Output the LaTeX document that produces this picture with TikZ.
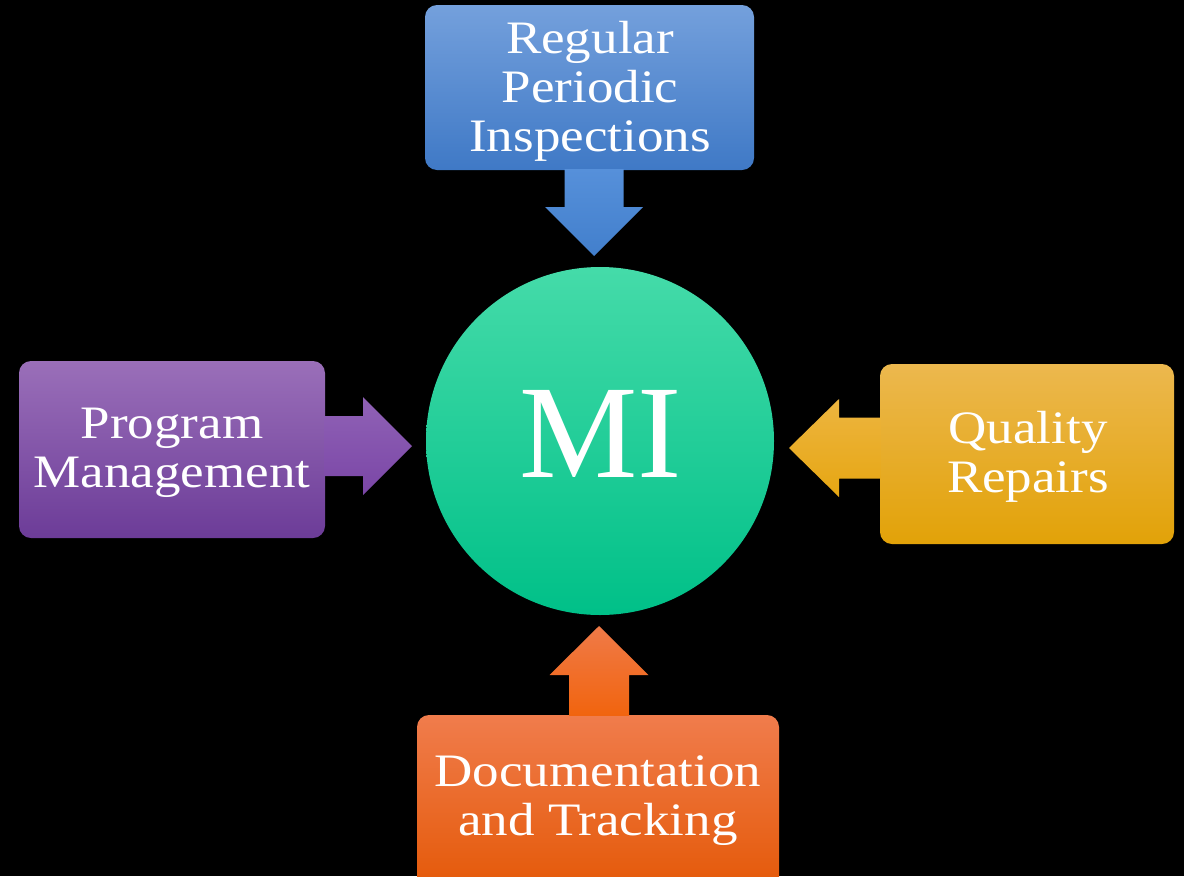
\documentclass[tikz,border=0pt]{standalone}
\usepackage{fontspec}
\setmainfont{Liberation Serif}[FakeStretch=1.14]
\newfontfamily\bigserif{Liberation Serif}
\usetikzlibrary{calc}

\definecolor{blueT}{HTML}{74A0DC}
\definecolor{blueB}{HTML}{3F79C6}
\definecolor{blueAT}{HTML}{5690DA}
\definecolor{blueAB}{HTML}{427FCC}
\definecolor{purT}{HTML}{9A6FB9}
\definecolor{purB}{HTML}{6C3C98}
\definecolor{purAT}{HTML}{9062B6}
\definecolor{purAB}{HTML}{7A46A6}
\definecolor{golT}{HTML}{ECB84E}
\definecolor{golB}{HTML}{E2A208}
\definecolor{golAT}{HTML}{EDB540}
\definecolor{golAB}{HTML}{E6A612}
\definecolor{oraT}{HTML}{F07C4C}
\definecolor{oraB}{HTML}{E45806}
\definecolor{oraAT}{HTML}{F07A48}
\definecolor{oraAB}{HTML}{F1640E}
\definecolor{mintT}{HTML}{45DBA9}
\definecolor{mintB}{HTML}{00C088}

\begin{document}
\begin{tikzpicture}[x=1pt,y=-1pt,
  box/.style={rounded corners=12pt, inner sep=0pt},
  label/.style={text=white, align=center, inner sep=0pt,
    font=\fontsize{46.5}{49}\selectfont},
  hub/.style={circle, inner sep=0pt, minimum size=348pt, top color=mintT,
    bottom color=mintB}]

\useasboundingbox (0,0) rectangle (1184,876);
\fill[black] (0,0) rectangle (1184,876);
\clip (0,0) rectangle (1184,876);

% central hub
\node[hub] (mi) at (600,441) {};
\node[text=white, inner sep=0pt, font=\bigserif\fontsize{133}{133}\selectfont]
  (mit) at (601,433.5) {MI};

% the four surrounding boxes
\node[box, minimum width=329pt, minimum height=165pt, top color=blueT, bottom color=blueB]
  (rpi) at (589.5,87.5) {};
\node[label] (rpit) at (590,91) {Regular\\Periodic\\Inspections};

\node[box, minimum width=306pt, minimum height=177pt, top color=purT, bottom color=purB]
  (pm) at (172,449.5) {};
\node[label] (pmt) at (172,453) {Program\\Management};

\node[box, minimum width=294pt, minimum height=180pt, top color=golT, bottom color=golB]
  (qr) at (1027,454) {};
\node[label] (qrt) at (1028,457) {Quality\\Repairs};

\node[box, minimum width=362pt, minimum height=180pt, top color=oraT, bottom color=oraB]
  (dt) at (598,805) {};
\node[label] (dtt) at (598,801) {Documentation\\and Tracking};

% arrow tips
\coordinate (tipT) at (594,256);
\coordinate (tipL) at (412,446);
\coordinate (tipR) at (789,448);
\coordinate (tipB) at (599,626);

% block arrows from each box towards the hub
\shade[top color=blueAT, bottom color=blueAB]
  ($(rpi.south -| tipT)+(-29.5,-1)$) -- ($(tipT)+(-29.5,-49)$) -- ($(tipT)+(-49,-49)$)
  -- (tipT) -- ($(tipT)+(49,-49)$) -- ($(tipT)+(29.5,-49)$)
  -- ($(rpi.south -| tipT)+(29.5,-1)$) -- cycle;

\shade[top color=purAT, bottom color=purAB]
  ($(pm.east |- tipL)+(-1,-30)$) -- ($(tipL)+(-49,-30)$) -- ($(tipL)+(-49,-49)$)
  -- (tipL) -- ($(tipL)+(-49,49)$) -- ($(tipL)+(-49,30)$)
  -- ($(pm.east |- tipL)+(-1,30)$) -- cycle;

\shade[top color=golAT, bottom color=golAB]
  ($(qr.west |- tipR)+(1,-30.5)$) -- ($(tipR)+(50,-30.5)$) -- ($(tipR)+(50,-49)$)
  -- (tipR) -- ($(tipR)+(50,49)$) -- ($(tipR)+(50,30.5)$)
  -- ($(qr.west |- tipR)+(1,30.5)$) -- cycle;

\shade[top color=oraAT, bottom color=oraAB]
  ($(dt.north -| tipB)+(-30,1)$) -- ($(tipB)+(-30,49)$) -- ($(tipB)+(-49.5,49)$)
  -- (tipB) -- ($(tipB)+(49.5,49)$) -- ($(tipB)+(30,49)$)
  -- ($(dt.north -| tipB)+(30,1)$) -- cycle;
\end{tikzpicture}
\end{document}
